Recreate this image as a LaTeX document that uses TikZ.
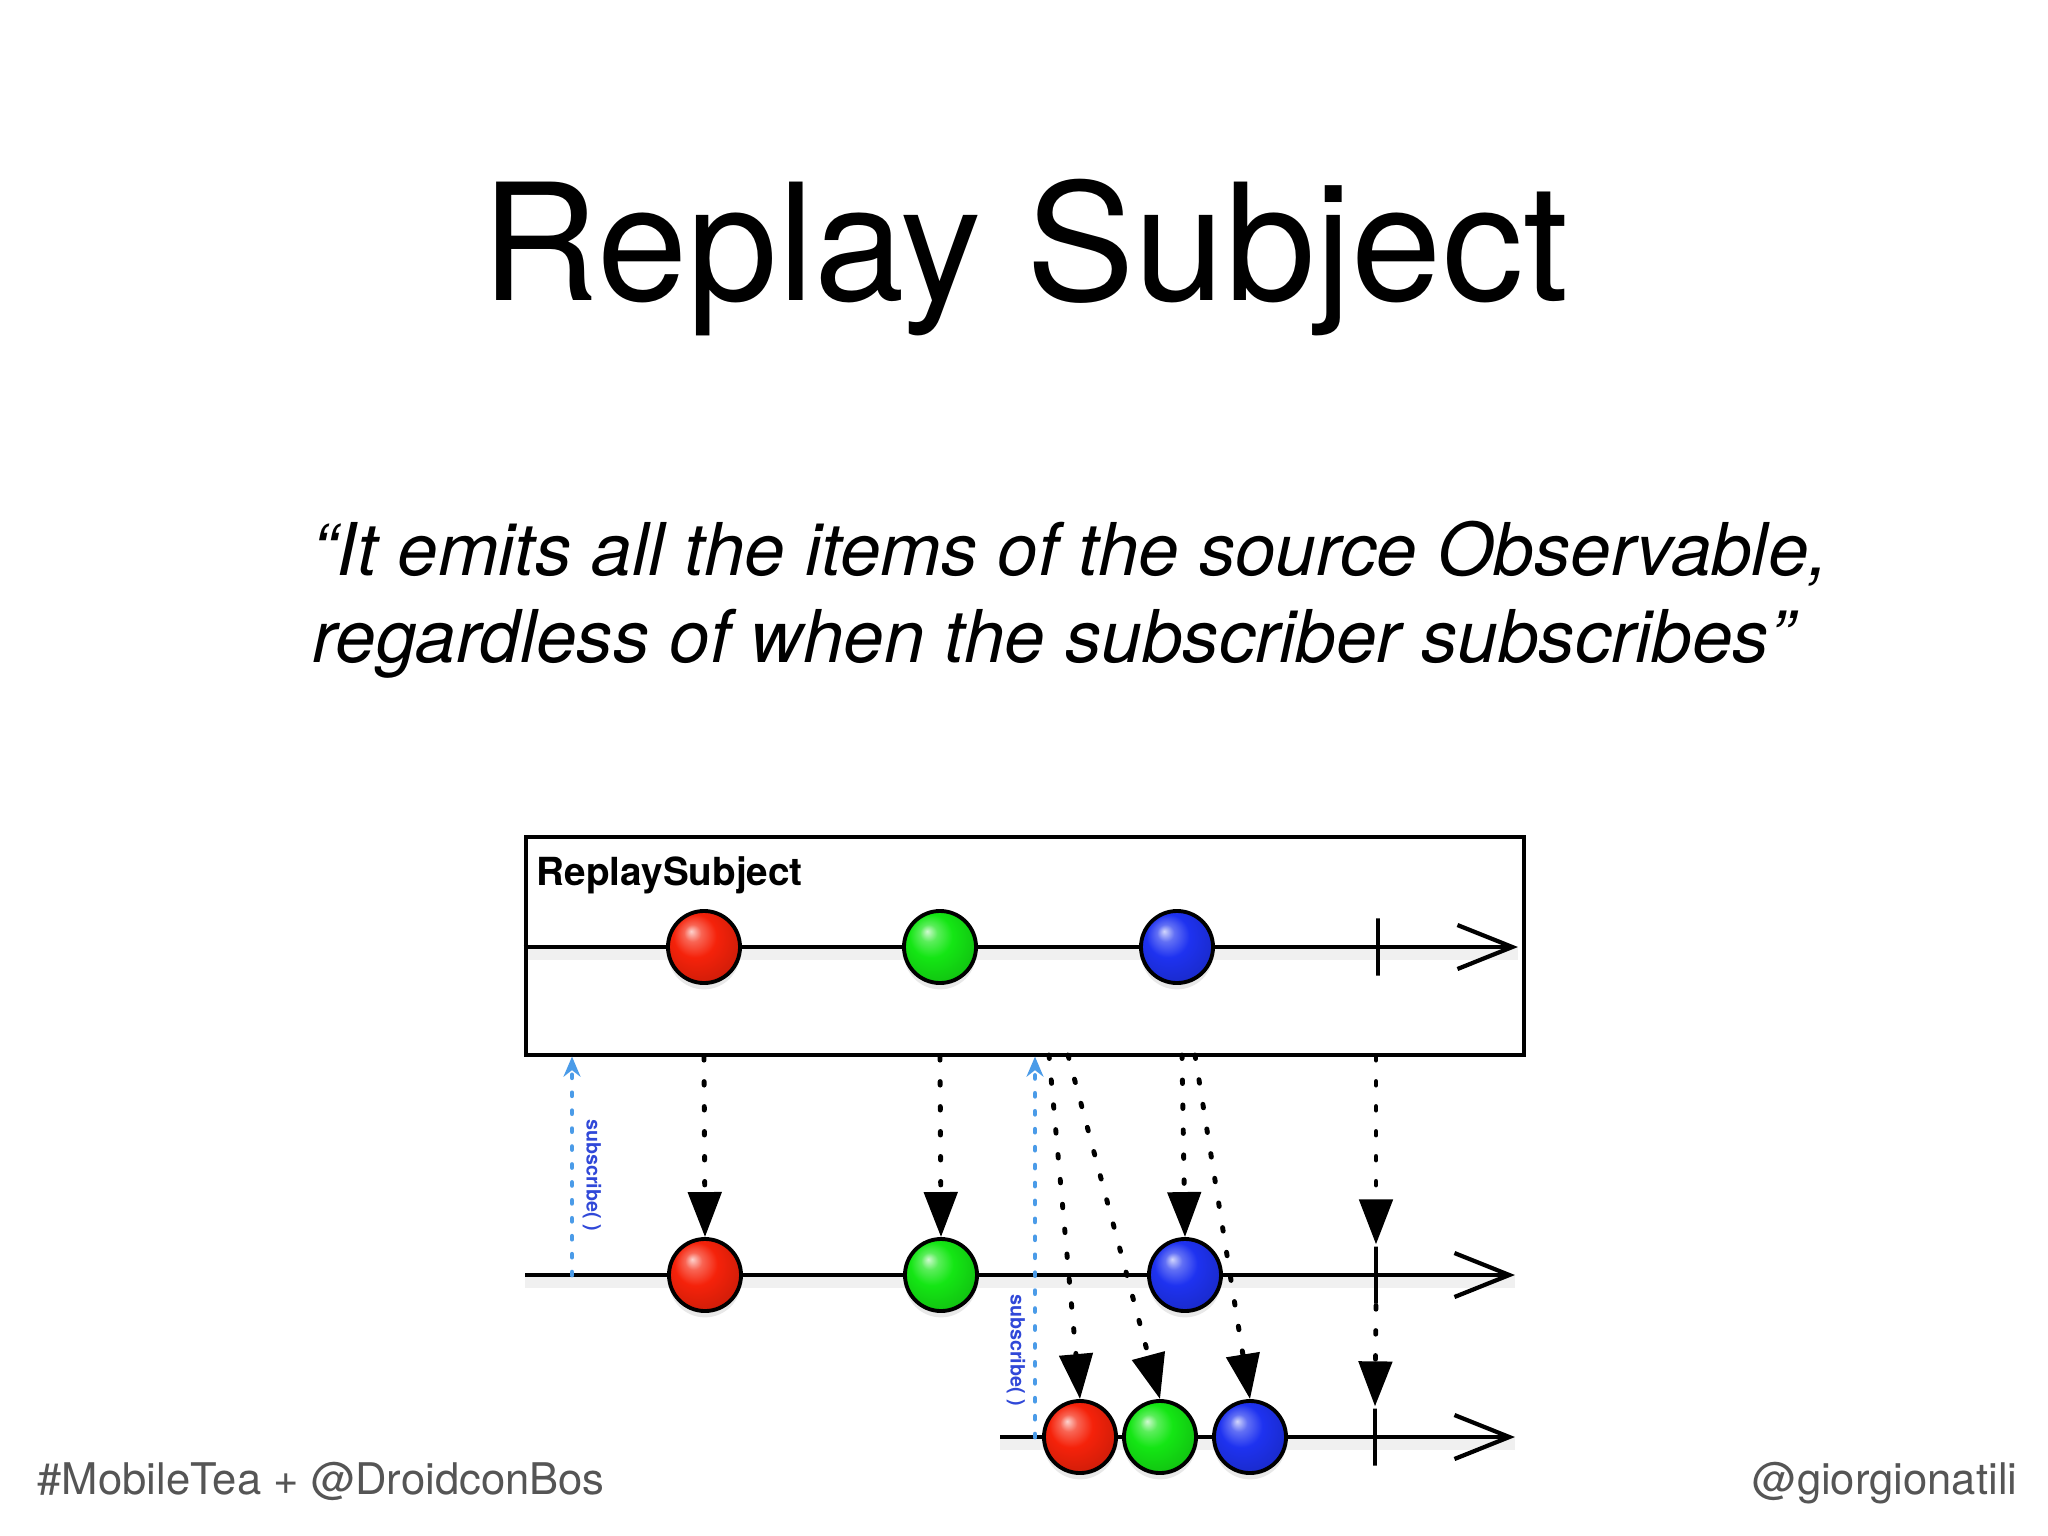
\documentclass[tikz,border=0pt]{standalone}
\usepackage{fontspec}
\setmainfont{TeX Gyre Heros}
\usepackage{tikz}
\usetikzlibrary{arrows.meta,shadows}

\definecolor{footgray}{HTML}{555555}
\definecolor{subline}{HTML}{4A9BE8}
\definecolor{subtext}{HTML}{3048D8}
\definecolor{mred}{HTML}{F5220A}
\definecolor{mgreen}{HTML}{14E614}
\definecolor{mblue}{HTML}{1E32F0}

% glossy marbles, highlight at the upper left
\pgfdeclareradialshading{redmarble}{\pgfpoint{-9bp}{11bp}}{color(0bp)=(mred!20!white); color(6bp)=(mred!70!white); color(15bp)=(mred); color(30bp)=(mred!85!black); color(50bp)=(mred!70!black)}
\pgfdeclareradialshading{greenmarble}{\pgfpoint{-9bp}{11bp}}{color(0bp)=(mgreen!20!white); color(6bp)=(mgreen!70!white); color(15bp)=(mgreen); color(30bp)=(mgreen!85!black); color(50bp)=(mgreen!70!black)}
\pgfdeclareradialshading{bluemarble}{\pgfpoint{-9bp}{11bp}}{color(0bp)=(mblue!20!white); color(6bp)=(mblue!70!white); color(15bp)=(mblue); color(30bp)=(mblue!85!black); color(50bp)=(mblue!70!black)}

\tikzset{
  timeline/.style={->, line width=1.2pt},
  lineshadow/.style={black, opacity=0.06, line width=3.5pt},
  marble/.style={circle, draw=black, line width=1.1pt, minimum size=0.72cm, inner sep=0pt, shade, shading=#1,
    drop shadow={opacity=0.18, shadow xshift=0pt, shadow yshift=-1.8pt}},
  endtick/.style={draw, line width=1.2pt, minimum width=0pt, minimum height=0.57cm, inner sep=0pt},
  emit/.style={line width=1.4pt, line cap=round, dash pattern=on 1pt off 6.1pt,
    -{Triangle[width=9.4pt, length=12.8pt]}},
  subscribe/.style={subline, line width=1.4pt, line cap=round, dash pattern=on 0.8pt off 4.3pt,
    -{Stealth[width=4.8pt, length=5.7pt]}},
  sublabel/.style={text=subtext, font=\fontsize{5.6}{6}\selectfont\bfseries, inner sep=0pt, rotate=-90}
}

\begin{document}
\begin{tikzpicture}[x=0.01cm, y=-0.01cm, >={Straight Barb[length=15.6pt, width=12.5pt]}]
    \fill[white] (0,0) rectangle (2048,1536);
    \useasboundingbox (0,0) rectangle (2048,1536);

    % Title and quote
    \node[font=\fontsize{46.2}{50}\selectfont, anchor=base] (title) at (1025,300) {Replay Subject};
    \node[font=\fontsize{20.7}{24.75}\selectfont\itshape, align=left, anchor=north west, inner sep=0pt] (quote) at (312,520)
        {“It emits all the items of the source Observable,\\regardless of when the subscriber subscribes”};

    % Footer
    \node[font=\fontsize{12.4}{14}\selectfont, text=footgray, anchor=base west, inner sep=0pt] (tag) at (37,1494) {\#MobileTea + @DroidconBos};
    \node[font=\fontsize{12.4}{14}\selectfont, text=footgray, anchor=base east, inner sep=0pt] (handle) at (2018,1494) {@giorgionatili};

    % Subject box
    \node[draw, line width=1.15pt, minimum width=9.98cm, minimum height=2.17cm, inner sep=0pt] (box) at (1025,946) {};
    \node[font=\fontsize{11}{12}\selectfont\bfseries, anchor=base west, inner sep=0pt] (name) at (536,885) {ReplaySubject};

    % Timelines
    \coordinate (end0) at (1518,947);
    \coordinate (start1) at (525,1275);
    \coordinate (end1) at (1515,1275);
    \coordinate (start2) at (1000,1437);
    \coordinate (end2) at (1515,1437);
    \draw[lineshadow] ([yshift=-2pt]box.west |- end0) -- ([yshift=-2pt]end0);
    \draw[lineshadow] ([yshift=-2pt]start1) -- ([yshift=-2pt]end1);
    \draw[lineshadow] ([yshift=-2pt]start2) -- ([yshift=-2pt]end2);
    \draw[timeline] (box.west |- end0) -- (end0);
    \draw[timeline] (start1) -- (end1);
    \draw[timeline] (start2) -- (end2);

    % Terminal ticks
    \node[endtick] (t0) at (1378,947) {};
    \node[endtick] (t1) at (1376,1275) {};
    \node[endtick] (t2) at (1375,1437) {};

    % Items on the source
    \node[marble=redmarble] (r0) at (704,947) {};
    \node[marble=greenmarble] (g0) at (940,947) {};
    \node[marble=bluemarble] (b0) at (1177,947) {};

    % Items of the first subscriber
    \node[marble=redmarble] (r1) at (705,1275) {};
    \node[marble=greenmarble] (g1) at (941,1275) {};
    \node[marble=bluemarble] (b1) at (1185,1275) {};

    % Items of the second subscriber
    \node[marble=redmarble] (r2) at (1080,1437) {};
    \node[marble=greenmarble] (g2) at (1160,1437) {};
    \node[marble=bluemarble] (b2) at (1250,1437) {};

    % Subscriptions
    \coordinate (sub1) at (572,1275);
    \coordinate (sub2) at (1035,1437);
    \draw[subscribe] (sub1) -- (sub1 |- box.south);
    \draw[subscribe] (sub2) -- (sub2 |- box.south);
    \node[sublabel] (lab1) at (592,1175) {subscribe( )};
    \node[sublabel] (lab2) at (1016,1350) {subscribe( )};

    % Emissions
    \draw[emit] (r0 |- box.south) -- (r1.north);
    \draw[emit] (g0 |- box.south) -- (g1.north);
    \coordinate (rep0) at (1182,1055);
    \coordinate (rep1) at (1049,1055);
    \coordinate (rep2) at (1068,1055);
    \coordinate (rep3) at (1195,1055);
    \draw[emit] (rep0) -- (b1.north);
    \draw[emit] (rep1) -- (r2.north);
    \draw[emit] (rep2) -- (g2.north);
    \draw[emit] (rep3) -- (b2.north);
    \draw[emit] (t1 |- box.south) -- (t1.north);
    \draw[emit] (t1.south) -- (t2.north);
\end{tikzpicture}
\end{document}
